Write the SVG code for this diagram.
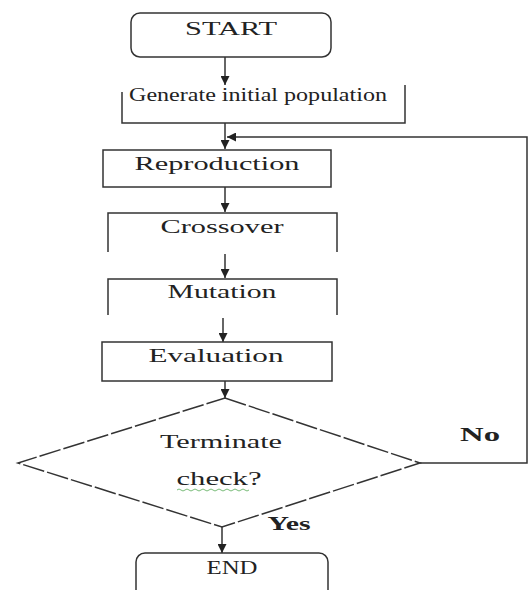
<svg xmlns="http://www.w3.org/2000/svg" width="528" height="590" viewBox="0 0 528 590">
<style>
.box{fill:#fff;stroke:#333;stroke-width:1.5}
.edge{fill:none;stroke:#333;stroke-width:1.5}
.t{font-family:"Liberation Serif","Times New Roman",serif;font-size:19px;fill:#222;text-anchor:middle}
.b{font-weight:bold;font-size:18px}
</style>
<defs>
<marker id="ah" viewBox="0 0 10 10" refX="10" refY="5" markerWidth="9" markerHeight="9" markerUnits="userSpaceOnUse" orient="auto">
<path d="M0,0 L10,5 L0,10 z" fill="#222"/>
</marker>
</defs>
<rect width="528" height="590" fill="#fff"/>
<g id="connectors">
<line class="edge" x1="225" y1="57" x2="225" y2="85" marker-end="url(#ah)"/>
<line class="edge" x1="225" y1="123" x2="225" y2="149" marker-end="url(#ah)"/>
<polyline class="edge" points="420,463 527,463 527,137 227,137" marker-end="url(#ah)"/>
<line class="edge" x1="225" y1="187" x2="225" y2="212" marker-end="url(#ah)"/>
<line class="edge" x1="225" y1="254" x2="225" y2="278" marker-end="url(#ah)"/>
<line class="edge" x1="223" y1="318" x2="223" y2="342" marker-end="url(#ah)"/>
<line class="edge" x1="225" y1="381" x2="225" y2="398" marker-end="url(#ah)"/>
<line class="edge" x1="222" y1="527" x2="222" y2="553" marker-end="url(#ah)"/>
<text class="t b" x="480" y="441" textLength="40" lengthAdjust="spacingAndGlyphs">No</text>
<text class="t b" x="289" y="530" textLength="43" lengthAdjust="spacingAndGlyphs">Yes</text>
</g>
<g id="start">
<rect class="box" x="131" y="13" width="200" height="44" rx="9"/>
<text class="t" x="231" y="35" textLength="92" lengthAdjust="spacingAndGlyphs">START</text>
</g>
<g id="generate">
<polyline class="edge" points="122,92 122,123 405,123 405,85"/>
<text class="t" x="258" y="101" textLength="258" lengthAdjust="spacingAndGlyphs">Generate initial population</text>
</g>
<g id="reproduction">
<rect class="box" x="103" y="150" width="228" height="37"/>
<text class="t" x="217" y="170" textLength="165" lengthAdjust="spacingAndGlyphs">Reproduction</text>
</g>
<g id="crossover">
<polyline class="edge" points="108,252 108,213 337,213 337,252"/>
<text class="t" x="222" y="233" textLength="123" lengthAdjust="spacingAndGlyphs">Crossover</text>
</g>
<g id="mutation">
<polyline class="edge" points="108,315 108,279 337,279 337,315"/>
<text class="t" x="222" y="298" textLength="109" lengthAdjust="spacingAndGlyphs">Mutation</text>
</g>
<g id="evaluation">
<rect class="box" x="102" y="342" width="230" height="39"/>
<text class="t" x="216" y="362" textLength="135" lengthAdjust="spacingAndGlyphs">Evaluation</text>
</g>
<g id="terminate">
<polygon points="225,398 420,463 222,527 18,463" fill="#fff" stroke="#333" stroke-width="1.5" stroke-dasharray="22,3"/>
<text class="t" x="221" y="448" textLength="122" lengthAdjust="spacingAndGlyphs">Terminate</text>
<text class="t" x="219" y="485" textLength="85" lengthAdjust="spacingAndGlyphs">check?</text>
<path d="M177,490 q2,-2 4,0 t4,0 t4,0 t4,0 t4,0 t4,0 t4,0 t4,0 t4,0 t4,0 t4,0 t4,0 t4,0 t4,0 t4,0 t4,0 t4,0 t4,0" fill="none" stroke="#5a5" stroke-width="0.8"/>
</g>
<g id="end">
<rect class="box" x="136" y="553" width="192" height="50" rx="9"/>
<text class="t" x="232" y="574" textLength="51" lengthAdjust="spacingAndGlyphs">END</text>
</g>
</svg>
